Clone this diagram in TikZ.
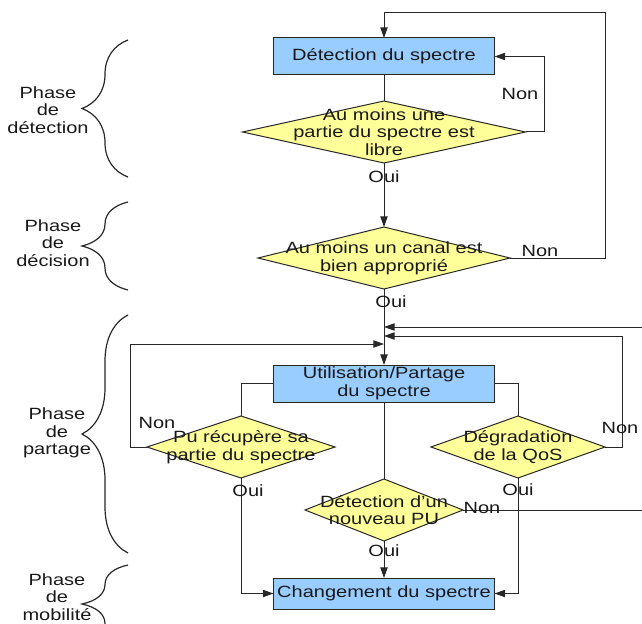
\documentclass[tikz,border=0pt]{standalone}
\usepackage{fontspec}
\setmainfont{Liberation Sans}[FakeStretch=1.23]
\usepackage{xcolor}
\usetikzlibrary{shapes.geometric, arrows.meta, decorations.pathreplacing}
\definecolor{blu}{RGB}{153, 204, 255}
\definecolor{yel}{RGB}{255, 255, 153}
\definecolor{lin}{RGB}{40, 40, 40}
\definecolor{txt}{RGB}{25, 25, 25}
\tikzset{
  box/.style={draw=lin, fill=blu, minimum width=165.75pt, minimum height=27.75pt, inner sep=0pt, outer sep=0pt, align=center},
  dec/.style={draw=lin, fill=yel, diamond, minimum height=46.5pt, inner sep=0pt, outer sep=0pt},
  arr/.style={-{Triangle[length=8pt, width=5.5pt]}},
  brc/.style={decorate, decoration={brace, amplitude=34.5pt}, line width=0.9pt},
}

\begin{document}
\begin{tikzpicture}[x=0.75pt, y=-0.75pt, font=\fontsize{12.2}{13.3}\selectfont, color=lin, text=txt, line width=0.75pt]
      \clip (0,0) rectangle (642,624);
      \node[box] (a) at (384,56.5) {Détection du spectre};
      \node[dec, minimum width=212.25pt, label={[align=center]center:Au moins une\\partie du spectre est\\libre}] (b) at (384,132) {};
      \node[dec, minimum width=189pt, label={[align=center]center:Au moins un canal est\\bien approprié}] (c) at (384,258) {};
      \node[box] (d) at (384,383.5) {Utilisation/Partage\\du spectre};
      \node[dec, minimum width=141pt, label={[align=center]center:Pu récupère sa\\partie du spectre}] (e) at (241,447) {};
      \node[dec, minimum width=130.5pt, label={[align=center]center:Dégradation\\de la QoS}] (f) at (518,447) {};
      \node[dec, minimum width=118.5pt, label={[align=center]center:Détection d'un\\nouveau PU}] (g) at (384,510) {};
      \node[box, minimum height=23.25pt] (h) at (384,593.5) {Changement du spectre};
      \coordinate (p) at (384,327);
      \coordinate (q) at (384,336);
      \coordinate (r) at (384,344);
      \draw (a.south) -- (b.north);
      \draw[arr] (b.south) -- (c.north);
      \draw[arr] (b.east) -- (544,132) |- (a.east);
      \draw[arr] (c.east) -| (605,13) -| (a.north);
      \draw[arr] (c.south) -- (d.north);
      \draw (d.west) -| (e.north);
      \draw (d.east) -| (f.north);
      \draw (d.south) -- (g.north);
      \draw[arr] (e.west) -- (130,447) |- (r);
      \draw[arr] (f.east) -- (622,447) |- (q);
      \draw[arr] (g.east) -- (660,510) |- (p);
      \draw[arr] (e.south) |- (h.west);
      \draw[arr] (f.south) |- (h.east);
      \draw[arr] (g.south) -- (h.north);
      \node (n1) at (520,94) {Non};
      \node (o1) at (384,177) {Oui};
      \node (n2) at (540,251) {Non};
      \node (o2) at (391,302) {Oui};
      \node (n3) at (157,423) {Non};
      \node (o3) at (248,491) {Oui};
      \node (n4) at (620,428) {Non};
      \node (o4) at (518,490) {Oui};
      \node (n5) at (482,508) {Non};
      \node (o5) at (384,551) {Oui};
      \node[align=center] (s1) at (48,110) {Phase\\de\\détection};
      \node[align=center] (s2) at (53,243) {Phase\\de\\décision};
      \node[align=center] (s3) at (57,433) {Phase\\de\\partage};
      \node[align=center] (s4) at (57,597) {Phase\\de\\mobilité};
      \draw[brc] (128,177) -- (128,40);
      \draw[brc] (128,290) -- (128,202);
      \draw[brc] (128,553) -- (128,315);
      \draw[brc] (128,643) -- (128,565);
    \end{tikzpicture}
\end{document}
